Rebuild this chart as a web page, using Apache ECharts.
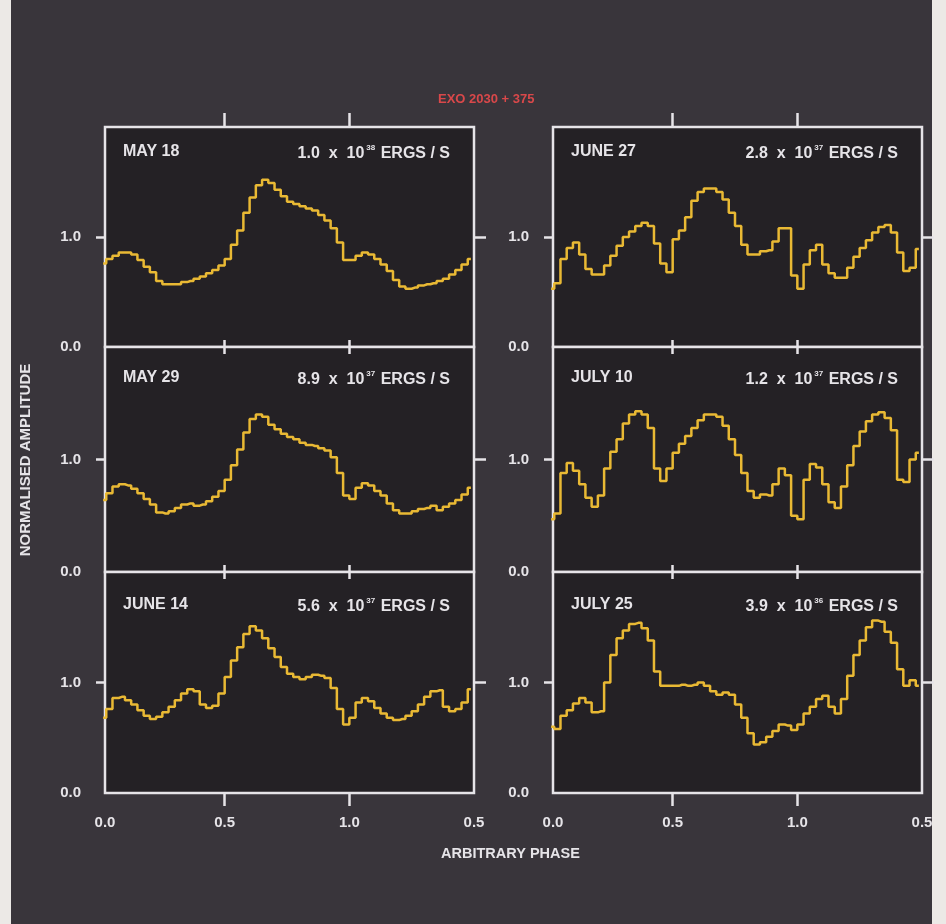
<!DOCTYPE html>
<html>
<head>
<meta charset="utf-8">
<script src="https://cdn.jsdelivr.net/npm/echarts@6/dist/echarts.min.js"></script>
<style>
html,body{margin:0;padding:0;background:#39353b;}
#chart{width:946px;height:924px;}
</style>
</head>
<body>
<div id="chart"></div>
<script>
// ---------- DATA ----------
const chartTitle = 'EXO 2030 + 375';
const xAxisName = 'ARBITRARY PHASE';
const yAxisName = 'NORMALISED AMPLITUDE';

const panelDates = ['MAY 18', 'MAY 29', 'JUNE 14', 'JUNE 27', 'JULY 10', 'JULY 25'];
const lumMantissa = ['1.0', '8.9', '5.6', '2.8', '1.2', '3.9'];
const lumExponent = ['38', '37', '37', '37', '37', '36'];

const xTickValues = [0.5, 1.0];
const xLabelValues = [0.02, 0.5, 1.0, 1.5];
const xLabelTexts = ['0.0', '0.5', '1.0', '0.5'];
const yLabelValues = [0, 1];
const yLabelTexts = ['0.0', '1.0'];
const yTickValues = [1];

// phase bin centres (60 bins of 0.025 over 0 - 1.5)
const phaseBins = [
  0.0125,0.0375,0.0625,0.0875,0.1125,0.1375,0.1625,0.1875,0.2125,0.2375,
  0.2625,0.2875,0.3125,0.3375,0.3625,0.3875,0.4125,0.4375,0.4625,0.4875,
  0.5125,0.5375,0.5625,0.5875,0.6125,0.6375,0.6625,0.6875,0.7125,0.7375,
  0.7625,0.7875,0.8125,0.8375,0.8625,0.8875,0.9125,0.9375,0.9625,0.9875,
  1.0125,1.0375,1.0625,1.0875,1.1125,1.1375,1.1625,1.1875,1.2125,1.2375,
  1.2625,1.2875,1.3125,1.3375,1.3625,1.3875,1.4125,1.4375,1.4625,1.4875
];

const may18 = [
  0.76,0.80,0.83,0.86,0.86,0.84,0.79,0.73,0.68,0.60,
  0.57,0.57,0.57,0.59,0.60,0.62,0.64,0.67,0.70,0.74,
  0.80,0.93,1.06,1.22,1.36,1.47,1.52,1.49,1.43,1.37,
  1.32,1.30,1.28,1.26,1.24,1.20,1.15,1.08,0.95,0.79,
  0.79,0.83,0.86,0.84,0.80,0.75,0.69,0.61,0.55,0.53,
  0.54,0.56,0.57,0.58,0.60,0.62,0.66,0.70,0.75,0.80
];
const may29 = [
  0.64,0.70,0.76,0.78,0.77,0.74,0.70,0.65,0.60,0.53,
  0.52,0.54,0.57,0.60,0.61,0.59,0.60,0.63,0.67,0.72,
  0.82,0.95,1.09,1.24,1.36,1.40,1.38,1.31,1.27,1.23,
  1.20,1.18,1.15,1.13,1.12,1.10,1.08,1.02,0.88,0.68,
  0.65,0.75,0.79,0.77,0.72,0.68,0.61,0.55,0.52,0.52,
  0.54,0.56,0.57,0.59,0.55,0.58,0.61,0.64,0.69,0.75
];
const june14 = [
  0.68,0.76,0.86,0.87,0.84,0.80,0.75,0.70,0.67,0.69,
  0.73,0.78,0.84,0.90,0.94,0.92,0.80,0.77,0.79,0.90,
  1.05,1.20,1.32,1.44,1.51,1.47,1.40,1.31,1.23,1.14,
  1.08,1.05,1.03,1.05,1.07,1.06,1.04,0.95,0.76,0.62,
  0.68,0.82,0.86,0.83,0.77,0.72,0.68,0.66,0.67,0.70,
  0.74,0.80,0.87,0.92,0.93,0.78,0.74,0.76,0.82,0.94
];
const june27 = [
  0.53,0.58,0.80,0.90,0.95,0.84,0.71,0.66,0.66,0.74,
  0.83,0.92,1.00,1.05,1.10,1.13,1.10,0.94,0.76,0.68,
  0.98,1.06,1.18,1.33,1.41,1.44,1.44,1.41,1.34,1.22,
  1.10,0.93,0.84,0.84,0.87,0.88,0.96,1.08,1.08,0.65,
  0.53,0.75,0.88,0.93,0.75,0.67,0.63,0.63,0.72,0.82,
  0.90,0.97,1.04,1.09,1.11,1.04,0.86,0.69,0.72,0.89
];
const july10 = [
  0.47,0.52,0.88,0.97,0.90,0.78,0.66,0.58,0.68,0.92,
  1.07,1.18,1.32,1.40,1.43,1.40,1.28,0.92,0.81,0.92,
  1.06,1.14,1.21,1.28,1.35,1.40,1.40,1.38,1.30,1.18,
  1.04,0.88,0.72,0.66,0.69,0.68,0.78,0.92,0.86,0.50,
  0.47,0.82,0.96,0.93,0.78,0.62,0.57,0.76,0.95,1.12,
  1.25,1.34,1.40,1.42,1.37,1.26,0.82,0.80,1.00,1.06
];
const july25 = [
  0.60,0.58,0.70,0.75,0.81,0.86,0.82,0.73,0.74,1.00,
  1.25,1.40,1.47,1.53,1.54,1.49,1.38,1.10,0.97,0.97,
  0.97,0.98,0.97,0.98,1.00,0.97,0.92,0.89,0.91,0.89,
  0.80,0.68,0.54,0.44,0.46,0.51,0.56,0.62,0.61,0.57,
  0.62,0.72,0.78,0.85,0.88,0.78,0.72,0.85,1.06,1.25,
  1.38,1.50,1.56,1.55,1.46,1.36,1.12,0.97,1.02,0.97
];
const panelSeries = [may18, may29, june14, june27, july10, july25];

// ---------- LAYOUT ----------
const FONT = "'Liberation Sans', Arial, sans-serif";
const WHITE = '#e6e4e8';
const colLeft = [105, 553];
const colWidth = 369;
const rowTop = [127, 347, 572];
const rowHeight = [220, 225, 221];
const X_MIN = 0.02, X_MAX = 1.5;

const grids = [], xAxes = [], yAxes = [], series = [], graphics = [];

panelSeries.forEach((vals, p) => {
  const col = p < 3 ? 0 : 1;
  const row = p % 3;
  grids.push({
    left: colLeft[col], top: rowTop[row], width: colWidth, height: rowHeight[row],
    show: true, backgroundColor: '#242125', borderColor: WHITE, borderWidth: 2.5
  });
  const isBottom = row === 2;
  const isTop = row === 0;
  // bottom x axis
  xAxes.push({
    type: 'value', gridIndex: p, position: 'bottom', min: X_MIN, max: X_MAX,
    axisLine: { show: false, onZero: false }, splitLine: { show: false },
    axisTick: { show: true, customValues: xTickValues, length: isBottom ? 13 : 7, inside: false,
      lineStyle: { color: WHITE, width: 2.5 } },
    axisLabel: {
      show: isBottom, customValues: xLabelValues, margin: 22,
      color: WHITE, fontFamily: FONT, fontWeight: 'bold', fontSize: 15,
      formatter: v => { const k = xLabelValues.findIndex(c => Math.abs(c - v) < 1e-6); return k >= 0 ? xLabelTexts[k] : ''; }
    }
  });
  // top x axis
  xAxes.push({
    type: 'value', gridIndex: p, position: 'top', min: X_MIN, max: X_MAX,
    axisLine: { show: false, onZero: false }, splitLine: { show: false },
    axisTick: { show: true, customValues: xTickValues, length: isTop ? 14 : 7, inside: false,
      lineStyle: { color: WHITE, width: 2.5 } },
    axisLabel: { show: false }
  });
  // left y axis
  yAxes.push({
    type: 'value', gridIndex: p, position: 'left', min: 0, max: 2,
    axisLine: { show: false, onZero: false }, splitLine: { show: false },
    axisTick: { show: true, customValues: yTickValues, length: 9, lineStyle: { color: WHITE, width: 2.5 } },
    axisLabel: {
      show: true, customValues: yLabelValues, margin: 24,
      color: WHITE, fontFamily: FONT, fontWeight: 'bold', fontSize: 15,
      formatter: v => { const k = yLabelValues.indexOf(v); return k >= 0 ? yLabelTexts[k] : ''; }
    }
  });
  // right y axis
  yAxes.push({
    type: 'value', gridIndex: p, position: 'right', min: 0, max: 2,
    axisLine: { show: false, onZero: false }, splitLine: { show: false },
    axisTick: { show: true, customValues: yTickValues, length: 12, lineStyle: { color: WHITE, width: 2.5 } },
    axisLabel: { show: false }
  });
  series.push({
    type: 'line', xAxisIndex: 2 * p, yAxisIndex: 2 * p, step: 'middle',
    showSymbol: false, symbol: 'none', clip: true,
    lineStyle: { color: '#e9b934', width: 2.5 },
    data: phaseBins.map((x, i) => [x, vals[i]]),
    z: 3
  });
  const labelY = rowTop[row] + [25, 31, 33][row];
  graphics.push({
    type: 'text', left: colLeft[col] + 18, top: labelY - 8,
    style: { text: panelDates[p], fill: WHITE, font: 'bold 16px ' + FONT }
  });
  graphics.push({
    type: 'text', right: 946 - (colLeft[col] + colWidth - 24), top: labelY - 10,
    style: {
      text: '{a|' + lumMantissa[p] + '  x  10}{s|' + lumExponent[p] + '}{a| ERGS / S}',
      rich: {
        a: { fill: WHITE, fontFamily: FONT, fontWeight: 'bold', fontSize: 16, lineHeight: 20, verticalAlign: 'bottom' },
        s: { fill: WHITE, fontFamily: FONT, fontWeight: 'bold', fontSize: 8, lineHeight: 20, verticalAlign: 'top', padding: [2, 1, 0, 2] }
      }
    }
  });
});

// paper edges of the photograph
graphics.push({ type: 'rect', left: 0, top: 0, shape: { width: 11, height: 924 }, style: { fill: '#ece9e6' }, z: -10 });
graphics.push({ type: 'rect', left: 932, top: 0, shape: { width: 14, height: 924 }, style: { fill: '#ece9e6' }, z: -10 });

// title and axis names
graphics.push({
  type: 'text', left: 438, top: 93,
  style: { text: chartTitle, fill: '#d9484a', font: 'bold 13px ' + FONT }
});
graphics.push({
  type: 'text', left: 441, top: 846,
  style: { text: xAxisName, fill: WHITE, font: 'bold 14.5px ' + FONT }
});
graphics.push({
  type: 'text', x: 26, y: 460, rotation: Math.PI / 2,
  style: { text: yAxisName, fill: WHITE, font: 'bold 15px ' + FONT, align: 'center', verticalAlign: 'middle' }
});

const chart = echarts.init(document.getElementById('chart'), null, { renderer: 'canvas' });
chart.setOption({
  backgroundColor: '#39353b',
  animation: false,
  grid: grids,
  xAxis: xAxes,
  yAxis: yAxes,
  series: series,
  graphic: graphics
});
</script>
</body>
</html>
